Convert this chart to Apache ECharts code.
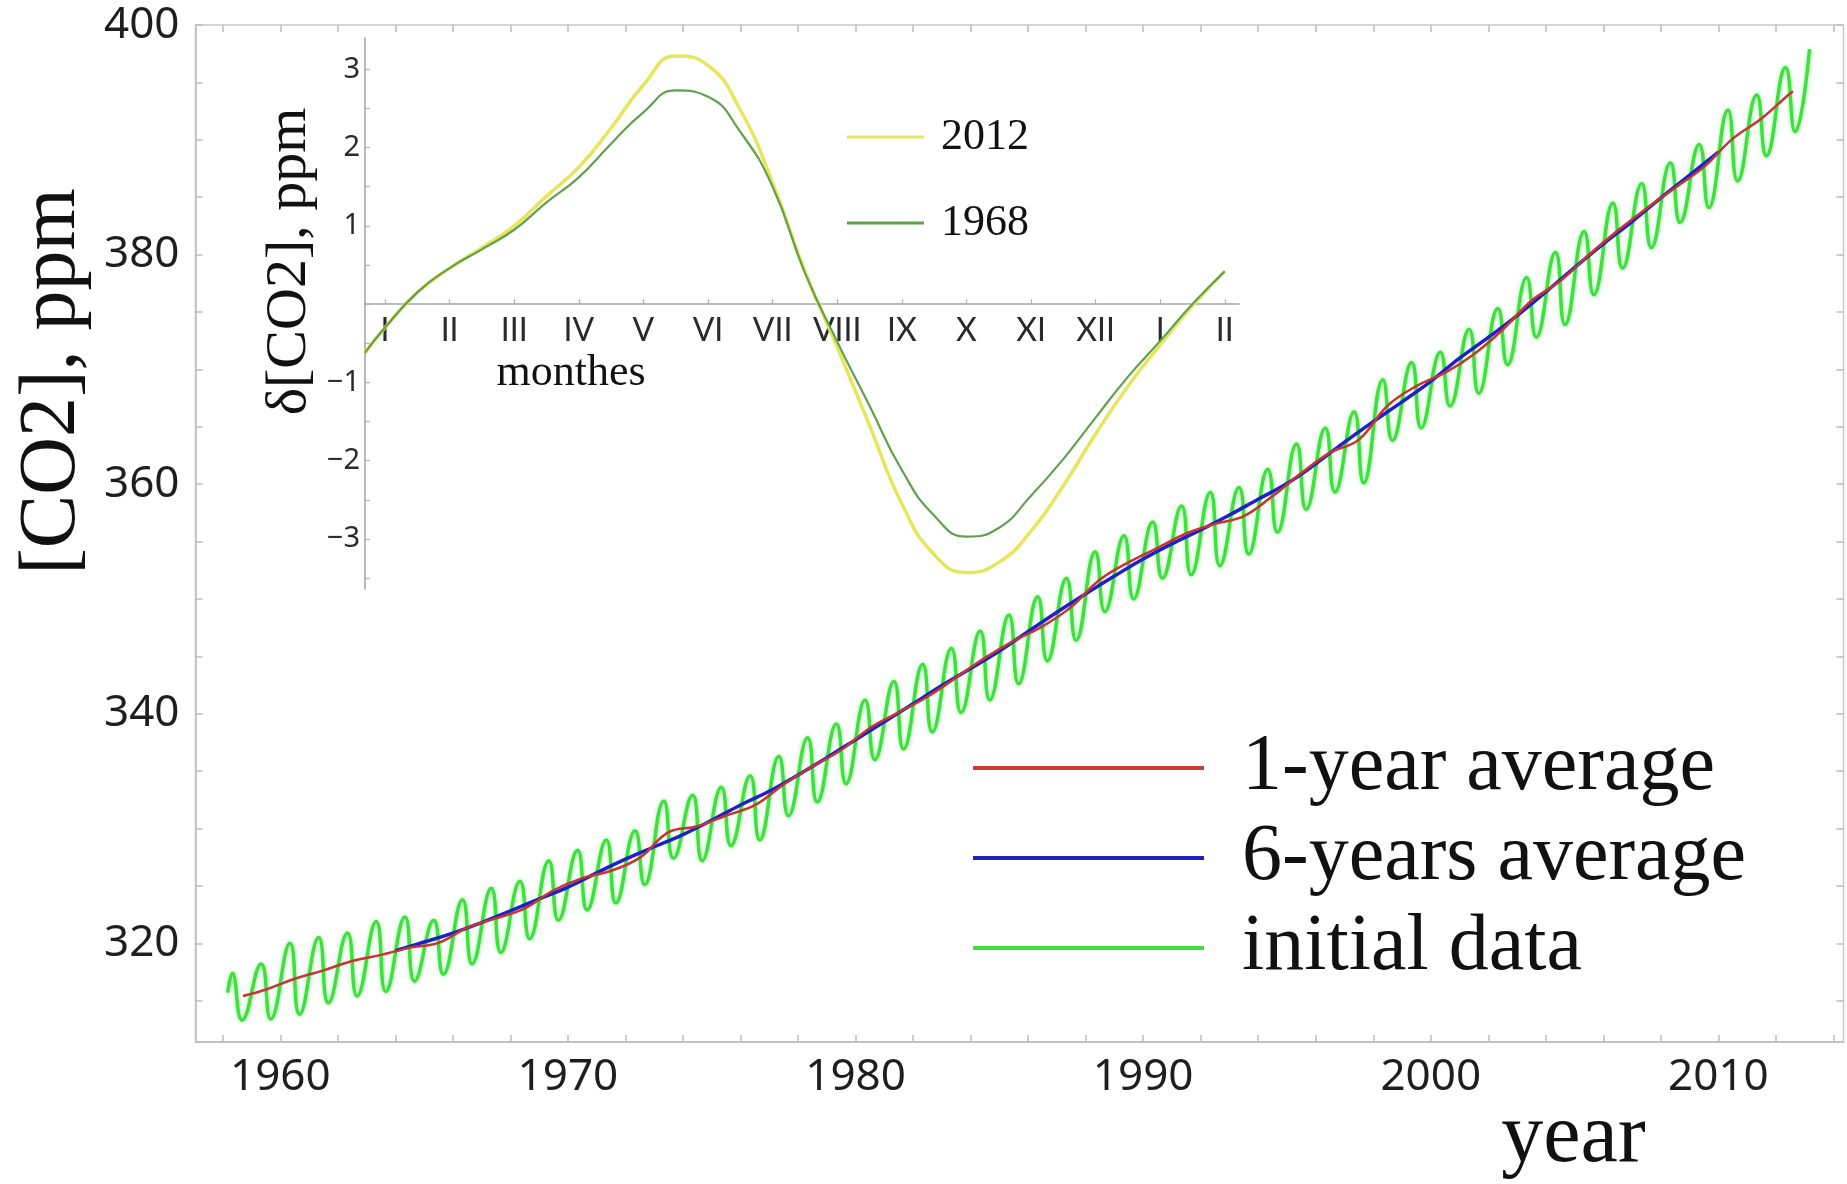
<!DOCTYPE html>
<html>
<head>
<meta charset="utf-8">
<title>CO2 concentration, Mauna Loa</title>
<script src="https://cdn.jsdelivr.net/npm/echarts@6/dist/echarts.min.js"></script>
<style>
  html, body { margin: 0; padding: 0; background: #ffffff; }
  #chart { width: 1847px; height: 1184px; }
</style>
</head>
<body>
<div id="chart"></div>
<script>
// ---------- main panel: monthly CO2 record ----------
// yearly maximum (May) and minimum (September) of the monthly record, 1958 .. 2012
const firstYear = 1958;
const mayPeaks = [
  317.4, 318.2, 320.0, 320.5, 320.9, 321.9, 322.3, 322.0, 323.8, 324.8,
  325.4, 327.2, 328.1, 329.0, 329.8, 332.4, 332.9, 333.6, 334.6, 336.3,
  337.9, 339.1, 341.2, 342.8, 344.3, 345.7, 347.2, 348.6, 350.2, 351.8,
  354.1, 355.5, 356.7, 358.1, 359.3, 359.7, 361.3, 363.5, 364.9, 366.3,
  369.1, 370.6, 371.5, 373.5, 375.3, 378.0, 380.2, 382.0, 384.5, 386.2,
  388.0, 389.6, 392.6, 393.9, 396.3
];
const septTroughs = [
  313.3, 313.4, 313.8, 314.8, 315.4, 315.8, 316.7, 317.3, 318.2, 319.2,
  320.4, 322.0, 322.9, 323.5, 325.1, 327.4, 327.2, 328.5, 329.0, 331.1,
  332.3, 333.9, 336.0, 336.9, 338.4, 340.1, 341.2, 342.6, 344.6, 346.4,
  348.9, 350.0, 351.8, 352.1, 352.9, 353.9, 355.8, 357.8, 359.3, 360.1,
  363.8, 364.9, 366.8, 367.9, 370.4, 372.8, 373.9, 376.5, 378.8, 380.6,
  382.8, 384.1, 386.4, 388.6, 390.7
];
const recordStart = [1958.17, 315.7];   // March 1958
const recordEnd = [2013.17, 397.9];     // March 2013
const PEAK_MONTH = 4 / 12;              // May, as a fraction of the year
const TROUGH_MONTH = 8 / 12;            // September

// 1-year running average, value at mid-year 1959 .. 2012
const annualFirstYear = 1959;
const annualMeans = [
  315.97, 316.91, 317.64, 318.45, 318.99, 319.62, 320.04, 321.37, 322.18, 323.05,
  324.62, 325.68, 326.32, 327.46, 329.68, 330.19, 331.13, 332.03, 333.84, 335.41,
  336.84, 338.76, 340.12, 341.48, 343.15, 344.87, 346.35, 347.61, 349.31, 351.69,
  353.20, 354.45, 355.70, 356.54, 357.21, 358.96, 360.97, 362.74, 363.88, 366.84,
  368.54, 369.71, 371.32, 373.45, 375.98, 377.70, 379.98, 382.09, 384.02, 385.83,
  387.64, 390.10, 391.85, 394.06
];
const annualStart = [1958.7, 315.4];
const annualEnd = [2012.6, 394.2];

// 6-years running average, value at the start of each year 1964 .. 2010
const sixYearFirst = 1964;
const sixYearMeans = [
  319.35, 320.11, 320.88, 321.81, 322.82, 323.87, 324.89, 326.14, 327.33, 328.41,
  329.47, 330.72, 332.05, 333.24, 334.67, 336.17, 337.74, 339.29, 340.87, 342.46,
  343.93, 345.46, 347.16, 348.84, 350.44, 351.99, 353.48, 354.80, 356.01, 357.31,
  358.69, 360.05, 361.77, 363.66, 365.45, 367.17, 368.96, 370.97, 372.78, 374.69,
  376.75, 378.87, 380.93, 382.88, 384.94, 386.92, 388.92
];

const yearLabels = [1960, 1970, 1980, 1990, 2000, 2010];
const ppmLabels = [320, 340, 360, 380, 400];

// ---------- inset: seasonal deviation from the trend ----------
const insetMonths = [0.69, 1, 1.5, 2, 2.5, 3, 3.5, 4, 4.5, 5, 5.5, 6, 6.5, 7, 7.5,
  8, 8.5, 9, 9.5, 10, 10.5, 11, 11.5, 12, 12.5, 13, 13.5, 14];
const delta2012 = [-0.62, -0.30, 0.15, 0.46, 0.72, 1.00, 1.38, 1.75, 2.25, 2.80, 3.17, 3.05, 2.48, 1.55, 0.42,
  -0.55, -1.55, -2.55, -3.20, -3.43, -3.30, -2.90, -2.32, -1.66, -1.05, -0.52, -0.02, 0.42];
const delta1968 = [-0.62, -0.30, 0.15, 0.46, 0.70, 0.95, 1.30, 1.62, 2.05, 2.45, 2.73, 2.65, 2.20, 1.50, 0.40,
  -0.48, -1.30, -2.12, -2.70, -2.97, -2.86, -2.45, -1.98, -1.45, -0.93, -0.47, 0.00, 0.42];
const monthLabels = ['I', 'II', 'III', 'IV', 'V', 'VI', 'VII', 'VIII', 'IX', 'X', 'XI', 'XII', 'I', 'II'];
const deltaLabels = [-3, -2, -1, 1, 2, 3];

// ---------- build series data ----------
const initialData = [recordStart];
mayPeaks.forEach((p, i) => {
  initialData.push([firstYear + i + PEAK_MONTH, p]);
  initialData.push([firstYear + i + TROUGH_MONTH, septTroughs[i]]);
});
initialData.push(recordEnd);

const oneYearData = [annualStart];
annualMeans.forEach((v, i) => oneYearData.push([annualFirstYear + i + 0.5, v]));
oneYearData.push(annualEnd);

const sixYearData = sixYearMeans.map((v, i) => [sixYearFirst + i, v]);

const inset2012 = insetMonths.map((m, i) => [m, delta2012[i]]);
const inset1968 = insetMonths.map((m, i) => [m, delta1968[i]]);

const monthNumbers = monthLabels.map((_, i) => i + 1);
const yearTicks = [];
for (let y = 1958; y <= 2014; y += 2) yearTicks.push(y);
const ppmTicks = [];
for (let v = 315; v <= 400; v += 5) ppmTicks.push(v);
const deltaTicks = [];
for (let v = -3.5; v <= 3.01; v += 0.5) deltaTicks.push(v);

// ---------- styles ----------
const SANS = 'Noto Sans';
const SERIF = 'Liberation Serif';
const FRAME = '#bcbcbc';
const X_MIN = 1957.05, X_MAX = 2014.35, Y_MIN = 311.4, Y_MAX = 400;
const M_MIN = 0.69, M_MAX = 14.22, D_MIN = -3.64, D_MAX = 3.40;

// inset plot area; the month axis lies on the zero line of the deviation scale
const INSET = { left: 365, right: 608, top: 38, bottom: 595 };
const insetHeight = 1184 - INSET.top - INSET.bottom;
const zeroLineY = INSET.top + insetHeight * D_MAX / (D_MAX - D_MIN);

const frameTicks = (values) => ({
  show: true, inside: true, length: 7, customValues: values,
  lineStyle: { color: FRAME, width: 1.5 }
});

const option = {
  animation: false,
  backgroundColor: '#ffffff',
  grid: [
    { left: 195.5, right: 3.5, top: 25, bottom: 138, show: true,
      borderColor: '#c8c8c8', borderWidth: 1.5, backgroundColor: 'transparent' },
    { left: INSET.left, right: INSET.right, top: INSET.top, bottom: INSET.bottom, show: false },
    // band that ends on the zero line: carries the month axis
    { left: INSET.left, right: INSET.right, top: INSET.top, bottom: 1184 - zeroLineY, show: false }
  ],
  legend: [
    {
      data: ['1-year average', '6-years average', 'initial data'],
      orient: 'vertical', left: 968, top: 718,
      icon: 'rect', itemWidth: 231, itemHeight: 4, itemGap: 0,
      selectedMode: false,
      textStyle: { fontFamily: SERIF, fontSize: 80, lineHeight: 90, color: '#111',
        padding: [0, 0, 0, 33] }
    },
    {
      data: ['2012', '1968'],
      orient: 'vertical', left: 842, top: 89,
      icon: 'rect', itemWidth: 77, itemHeight: 3, itemGap: 0,
      selectedMode: false,
      textStyle: { fontFamily: SERIF, fontSize: 44, lineHeight: 86, color: '#111',
        padding: [0, 0, 0, 12] }
    }
  ],
  xAxis: [
    {
      gridIndex: 0, type: 'value', min: X_MIN, max: X_MAX, position: 'bottom',
      axisLine: { show: true, onZero: false, lineStyle: { color: FRAME, width: 1.5 } },
      axisTick: frameTicks(yearTicks),
      axisLabel: { customValues: yearLabels, margin: 13, fontFamily: SANS, fontSize: 44,
        color: '#1e1e1e', formatter: (v) => String(Math.round(v)) },
      splitLine: { show: false },
      name: 'year', nameLocation: 'end', nameGap: -270,
      nameTextStyle: { fontFamily: SERIF, fontSize: 84, color: '#111', align: 'center',
        verticalAlign: 'top', lineHeight: 90, padding: [52, 0, 0, 0] }
    },
    {
      gridIndex: 0, type: 'value', min: X_MIN, max: X_MAX, position: 'top',
      axisLine: { show: false, onZero: false },
      axisTick: frameTicks(yearTicks),
      axisLabel: { show: false },
      splitLine: { show: false }
    },
    {
      gridIndex: 1, type: 'value', min: M_MIN, max: M_MAX, show: false
    },
    {
      gridIndex: 2, type: 'value', min: M_MIN, max: M_MAX, position: 'bottom',
      axisLine: { show: true, onZero: false, lineStyle: { color: '#a8a8a8', width: 1.5 } },
      axisTick: { show: true, inside: true, length: 5, customValues: monthNumbers,
        lineStyle: { color: '#b0b0b0', width: 1.2 } },
      axisLabel: { customValues: monthNumbers, margin: 11, fontFamily: 'Lato', fontSize: 32,
        color: '#2a2a2a', formatter: (v) => monthLabels[Math.round(v) - 1] },
      splitLine: { show: false },
      name: 'monthes', nameLocation: 'middle', nameGap: 42,
      nameTextStyle: { fontFamily: SERIF, fontSize: 44, color: '#111', align: 'center',
        verticalAlign: 'top', lineHeight: 50, padding: [0, 462, 0, 0] }
    }
  ],
  yAxis: [
    {
      gridIndex: 0, type: 'value', min: Y_MIN, max: Y_MAX, position: 'left',
      axisLine: { show: true, onZero: false, lineStyle: { color: FRAME, width: 1.5 } },
      axisTick: frameTicks(ppmTicks),
      axisLabel: { customValues: ppmLabels, margin: 16, fontFamily: SANS, fontSize: 44,
        color: '#1e1e1e', formatter: (v) => String(Math.round(v)) },
      splitLine: { show: false },
      name: '[CO2], ppm', nameLocation: 'middle', nameRotate: 90, nameGap: 102,
      nameTextStyle: { fontFamily: SERIF, fontSize: 80, color: '#111',
        padding: [0, 0, 0, 304] }
    },
    {
      gridIndex: 0, type: 'value', min: Y_MIN, max: Y_MAX, position: 'right',
      axisLine: { show: false, onZero: false },
      axisTick: frameTicks(ppmTicks),
      axisLabel: { show: false },
      splitLine: { show: false }
    },
    {
      gridIndex: 1, type: 'value', min: D_MIN, max: D_MAX, position: 'left',
      axisLine: { show: true, onZero: false, lineStyle: { color: '#a0a0a0', width: 1.5 } },
      axisTick: { show: true, inside: true, length: 5, customValues: deltaTicks,
        lineStyle: { color: '#b0b0b0', width: 1.2 } },
      axisLabel: { customValues: deltaLabels, margin: 5, fontFamily: SANS, fontSize: 29,
        color: '#2a2a2a', formatter: (v) => String(Math.round(v)).replace('-', '\u2212') },
      splitLine: { show: false },
      name: '\u03b4[CO2], ppm', nameLocation: 'middle', nameRotate: 90, nameGap: 46,
      nameTextStyle: { fontFamily: SERIF, fontSize: 58, color: '#111',
        padding: [0, 0, 0, 104] }
    },
    {
      gridIndex: 2, type: 'value', min: 0, max: D_MAX, show: false
    }
  ],
  series: [
    {
      name: 'initial data', type: 'line', xAxisIndex: 0, yAxisIndex: 0,
      data: initialData, smooth: 0.5, symbol: 'none', color: '#3ee03e',
      lineStyle: { color: '#3ee03e', width: 3.5, shadowBlur: 4,
        shadowColor: 'rgba(70,230,70,0.5)' },
      z: 2
    },
    {
      name: '6-years average', type: 'line', xAxisIndex: 0, yAxisIndex: 0,
      data: sixYearData, smooth: 0.4, symbol: 'none', color: '#2020c8',
      lineStyle: { color: '#2020c8', width: 3.5 },
      z: 3
    },
    {
      name: '1-year average', type: 'line', xAxisIndex: 0, yAxisIndex: 0,
      data: oneYearData, smooth: 0.4, symbol: 'none', color: '#d03a3a',
      lineStyle: { color: '#c83434', width: 2.5 },
      z: 4
    },
    {
      name: '1968', type: 'line', xAxisIndex: 2, yAxisIndex: 2,
      data: inset1968, smooth: 0.5, symbol: 'none', color: '#62a04c',
      lineStyle: { color: '#62a04c', width: 2.2 },
      z: 3
    },
    {
      name: '2012', type: 'line', xAxisIndex: 2, yAxisIndex: 2,
      data: inset2012, smooth: 0.5, symbol: 'none', color: '#e6e65c',
      lineStyle: { color: '#e6e65c', width: 3.5 },
      z: 2
    }
  ]
};

const chart = echarts.init(document.getElementById('chart'), null, { renderer: 'canvas' });
chart.setOption(option);
</script>
</body>
</html>
